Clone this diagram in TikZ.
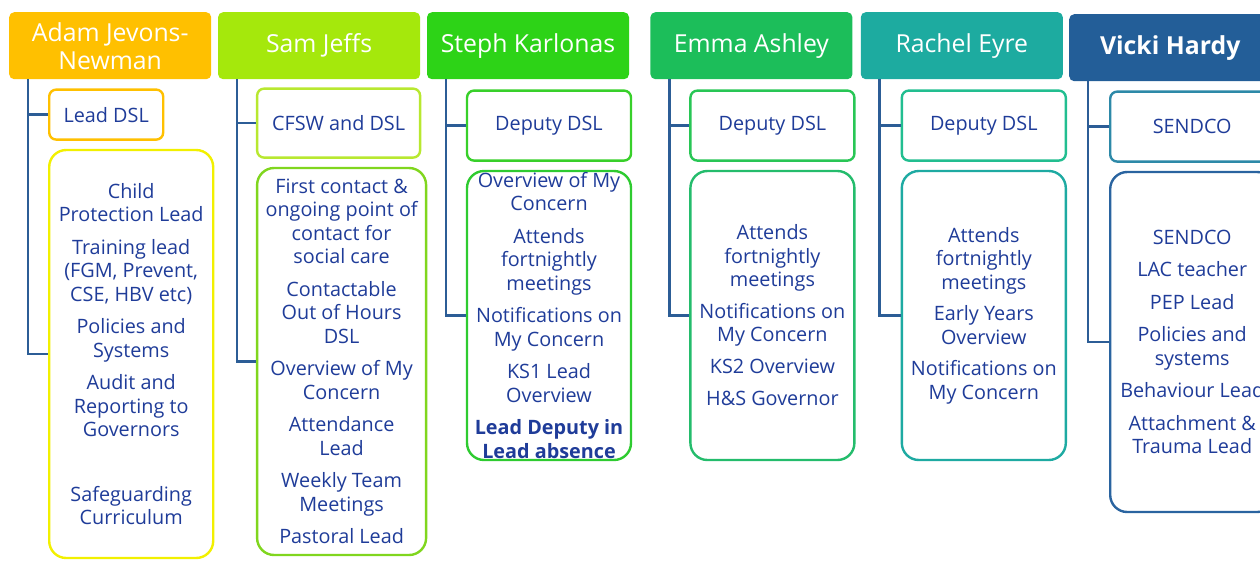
\documentclass[tikz,border=0pt]{standalone}
\usepackage{fontspec}
\setmainfont{Open Sans}
\usetikzlibrary{positioning}
\definecolor{ink}{HTML}{1F3C99}
\definecolor{linkblue}{HTML}{2C5D96}
\definecolor{orangeA}{HTML}{FFC000}
\definecolor{yellowA}{HTML}{F2F000}
\definecolor{limeH}{HTML}{A5E80C}
\definecolor{limeA}{HTML}{B8E830}
\definecolor{limeB}{HTML}{80D61E}
\definecolor{greenH}{HTML}{2DD317}
\definecolor{greenA}{HTML}{38D02A}
\definecolor{greenB}{HTML}{2ECB30}
\definecolor{emeraldH}{HTML}{1CBE5A}
\definecolor{emeraldA}{HTML}{28C655}
\definecolor{emeraldB}{HTML}{24BC6C}
\definecolor{tealH}{HTML}{1DABA0}
\definecolor{tealA}{HTML}{22BE90}
\definecolor{tealB}{HTML}{1EAAA2}
\definecolor{navyH}{HTML}{235E98}
\definecolor{navyA}{HTML}{2D89A8}
\definecolor{navyB}{HTML}{2A64A0}
\tikzset{
  head/.style={rectangle, rounded corners=5pt, minimum width=202pt, minimum height=67pt, inner sep=0pt,
    text=white, align=center, font=\fontsize{24.8}{28}\selectfont},
  role/.style={rectangle, rounded corners=7pt, line width=2.4pt, fill=white, inner sep=0pt,
    text=ink, align=center, font=\fontsize{19.8}{23.5}\selectfont, minimum width=164pt, minimum height=70pt},
  duties/.style={role, rounded corners=17pt},
  connect/.style={line width=2.6pt, draw=linkblue}
}

\begin{document}
\begin{tikzpicture}[x=1pt, y=-1pt]
  \useasboundingbox (0,0) rectangle (1260,560);
  % name headers
  \node[head, fill=orangeA, anchor=north west] (H1) at (9,12) {Adam Jevons-\\Newman};
  \node[head, fill=limeH] (H2) [right=6.5pt of H1] {Sam Jeffs};
  \node[head, fill=greenH] (H3) [right=6.5pt of H2] {Steph Karlonas};
  \node[head, fill=emeraldH] (H4) [right=21pt of H3] {Emma Ashley};
  \node[head, fill=tealH] (H5) [right=8pt of H4] {Rachel Eyre};
  \node[head, fill=navyH, font=\fontsize{24.8}{28}\selectfont\bfseries] (H6) [right=6pt of H5, yshift=-2pt] {Vicki Hardy};

  % role boxes
  \node[role, draw=orangeA, minimum width=114pt, minimum height=50pt] (R1) [below right=9pt and 39pt of H1.south west] {Lead DSL};
  \node[role, draw=limeA, minimum width=163pt, minimum height=69pt] (R2) [below right=8pt and 38pt of H2.south west] {CFSW and DSL};
  \node[role, draw=greenA] (R3) [below right=10pt and 39pt of H3.south west] {Deputy DSL};
  \node[role, draw=emeraldA] (R4) [below right=10pt and 39pt of H4.south west] {Deputy DSL};
  \node[role, draw=tealA] (R5) [below right=10pt and 40pt of H5.south west] {Deputy DSL};
  \node[role, draw=navyA] (R6) [below right=9pt and 40pt of H6.south west] {SENDCO};

  % duty lists
  \node[duties, draw=yellowA, minimum height=408pt] (T1) [below right=8pt and 0pt of R1.south west]
    {Child\\Protection Lead\\[9pt]Training lead\\(FGM, Prevent,\\CSE, HBV etc)\\[9pt]Policies and\\Systems\\[9pt]Audit and\\Reporting to\\Governors\\[41pt]Safeguarding\\Curriculum};
  \node[duties, draw=limeB, minimum width=169pt, minimum height=387pt] (T2) [below right=8pt and 0pt of R2.south west]
    {First contact \&\\ongoing point of\\contact for\\social care\\[9pt]Contactable\\Out of Hours\\DSL\\[9pt]Overview of My\\Concern\\[9pt]Attendance\\Lead\\[9pt]Weekly Team\\Meetings\\[9pt]Pastoral Lead};
  \node[duties, draw=greenB, minimum height=289pt] (T3) [below right=8pt and 0pt of R3.south west]
    {Overview of My\\Concern\\[9pt]Attends\\fortnightly\\meetings\\[9pt]Notifications on\\My Concern\\[9pt]KS1 Lead\\Overview\\[9pt]\textbf{Lead Deputy in}\\\textbf{Lead absence}};
  \node[duties, draw=emeraldB, minimum height=289pt] (T4) [below right=8pt and 0pt of R4.south west]
    {Attends\\fortnightly\\meetings\\[8pt]Notifications on\\My Concern\\[8pt]KS2 Overview\\[9pt]H\&S Governor};
  \node[duties, draw=tealB, minimum height=289pt] (T5) [below right=8pt and 0pt of R5.south west]
    {Attends\\fortnightly\\meetings\\[8pt]Early Years\\Overview\\[8pt]Notifications on\\My Concern};
  \node[duties, draw=navyB, minimum height=340pt] (T6) [below right=8pt and 0pt of R6.south west]
    {SENDCO\\[9pt]LAC teacher\\[9pt]PEP Lead\\[9pt]Policies and\\systems\\[9pt]Behaviour Lead\\[9pt]Attachment \&\\Trauma Lead};

  % connectors
  \foreach \i in {1,...,6} {
    \draw[connect] ([xshift=19pt]H\i.south west) |- (R\i.west);
    \draw[connect] ([xshift=19pt]H\i.south west) |- (T\i.west);
  }
\end{tikzpicture}
\end{document}
